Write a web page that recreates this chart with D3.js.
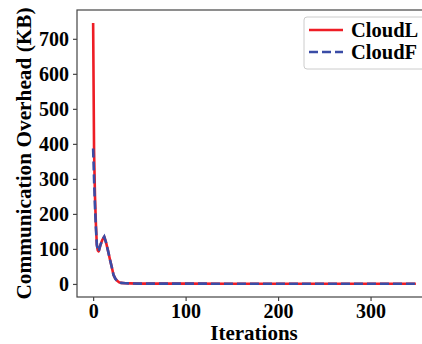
<!DOCTYPE html>
<html>
<head>
<meta charset="utf-8">
<script src="https://cdn.jsdelivr.net/npm/d3@7"></script>
<style>
  body { margin: 0; background: #fff; }
  svg { display: block; }
  text { font-family: "Liberation Serif", "Times New Roman", serif; font-weight: bold; }
</style>
</head>
<body>
<div id="chart"></div>
<script>
var iterations = [0, 1, 2, 3, 4, 5, 6, 8, 10, 12, 14, 16, 18, 20, 22, 24, 26, 28, 30, 35, 40, 50, 100, 150, 200, 250, 300, 349]
var cloudL = [745, 380, 250, 170, 112, 96, 93, 112, 126, 135, 118, 96, 72, 50, 26, 15, 9, 5, 3, 2, 1.5, 1, 0.8, 0.7, 0.6, 0.5, 0.5, 0.5]
var cloudF = [387, 300, 220, 160, 112, 96, 93, 112, 126, 135, 118, 96, 72, 50, 26, 15, 9, 5, 3, 2, 1.5, 1, 0.8, 0.7, 0.6, 0.5, 0.5, 0.5]
var xTicks = [0, 100, 200, 300]
var yTicks = [0, 100, 200, 300, 400, 500, 600, 700]
var seriesNames = ['CloudL', 'CloudF']
var seriesColors = ['#ee1d25', '#3a4ca6']

function draw() {
  var width = 422, height = 344
  var mLeft = 77, mTop = 10, mRight = 432, mBottom = 297

  var svg = d3.select('#chart').append('svg').attr('width', width).attr('height', height)

  var x = d3.scaleLinear().domain([-17.45, 366.45]).range([mLeft, mRight])
  var y = d3.scaleLinear().domain([-37.3, 782.3]).range([mBottom, mTop])

  var line = d3.line()
    .x(function(d) { return x(d[0]) })
    .y(function(d) { return y(d[1]) })

  var dataL = iterations.map(function(it, i) { return [it, cloudL[i]] })
  var dataF = iterations.map(function(it, i) { return [it, cloudF[i]] })

  svg.append('path').datum(dataL)
    .attr('d', line)
    .style('fill', 'none').style('stroke', seriesColors[0]).style('stroke-width', 2.6)
    .style('stroke-linejoin', 'round')

  svg.append('path').datum(dataF)
    .attr('d', line)
    .style('fill', 'none').style('stroke', seriesColors[1]).style('stroke-width', 2.6)
    .style('stroke-dasharray', '9,4')

  // frame
  svg.append('rect')
    .attr('x', mLeft).attr('y', mTop).attr('width', mRight - mLeft).attr('height', mBottom - mTop)
    .style('fill', 'none').style('stroke', '#444').style('stroke-width', 1.2)

  var xAxis = svg.append('g').attr('transform', 'translate(0,' + mBottom + ')')
    .call(d3.axisBottom(x).tickValues(xTicks).tickSize(4).tickPadding(3))
  var yAxis = svg.append('g').attr('transform', 'translate(' + mLeft + ',0)')
    .call(d3.axisLeft(y).tickValues(yTicks).tickSize(4).tickPadding(4))

  ;[xAxis, yAxis].forEach(function(ax) {
    ax.select('.domain').remove()
    ax.selectAll('line').style('stroke', '#444').style('stroke-width', 1.2)
    ax.selectAll('text').style('font-size', '20px').style('fill', '#000')
      .style('font-family', '"Liberation Serif", serif').style('font-weight', 'bold')
  })
  xAxis.selectAll('text').attr('dy', '0.72em')

  svg.append('text')
    .attr('x', 254).attr('y', 340)
    .attr('text-anchor', 'middle').style('font-size', '21px')
    .text('Iterations')

  svg.append('text')
    .attr('transform', 'translate(31,153.5) rotate(-90)')
    .attr('text-anchor', 'middle').style('font-size', '21.3px')
    .text('Communication Overhead (KB)')

  // legend
  var lg = svg.append('g')
  lg.append('rect')
    .attr('x', 304).attr('y', 17).attr('width', 140).attr('height', 52).attr('rx', 3)
    .style('fill', '#fff').style('stroke', '#ccc').style('stroke-width', 1)
  seriesNames.forEach(function(name, i) {
    var ly = 30 + i * 22
    lg.append('line')
      .attr('x1', 309).attr('x2', 343).attr('y1', ly).attr('y2', ly)
      .style('stroke', seriesColors[i]).style('stroke-width', 2.6)
      .style('stroke-dasharray', i == 1 ? '9,4' : null)
    lg.append('text')
      .attr('x', 351).attr('y', ly + 7)
      .style('font-size', '20.5px')
      .text(name)
  })
}

draw()
</script>
</body>
</html>
